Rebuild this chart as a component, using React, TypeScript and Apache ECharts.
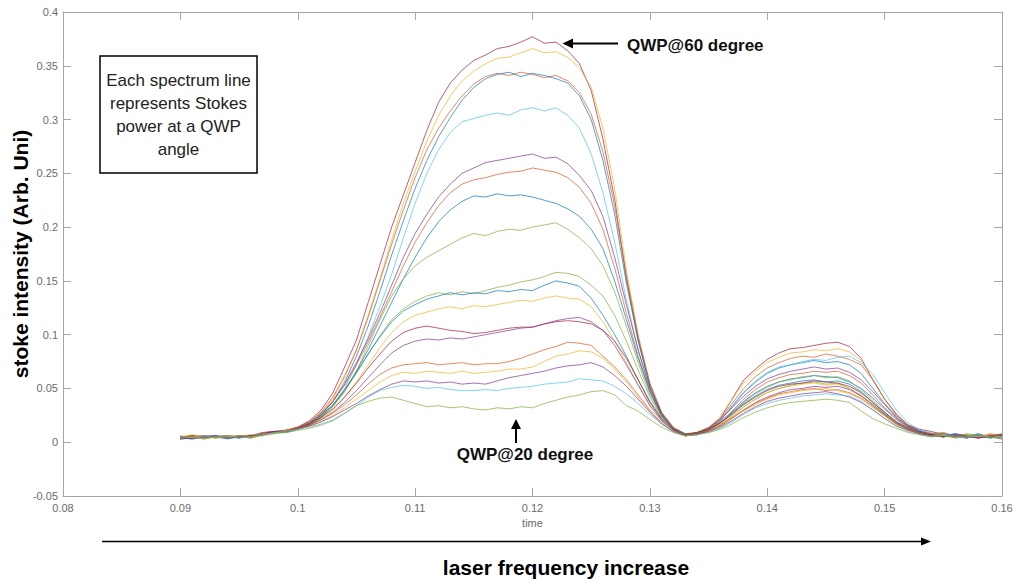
import React, { useEffect, useRef } from "react";
import * as echarts from "echarts";

// time axis sample positions (0.090 … 0.160)
const X = [
  0.09, 0.091, 0.092, 0.093, 0.094, 0.095, 0.096, 0.097, 0.098, 0.099, 0.1,
  0.101, 0.102, 0.103, 0.104, 0.105, 0.106, 0.107, 0.108, 0.109, 0.11,
  0.111, 0.112, 0.113, 0.114, 0.115, 0.116, 0.117, 0.118, 0.119, 0.12,
  0.121, 0.122, 0.123, 0.124, 0.125, 0.126, 0.127, 0.128, 0.129, 0.13,
  0.131, 0.132, 0.133, 0.134, 0.135, 0.136, 0.137, 0.138, 0.139, 0.14,
  0.141, 0.142, 0.143, 0.144, 0.145, 0.146, 0.147, 0.148, 0.149, 0.15,
  0.151, 0.152, 0.153, 0.154, 0.155, 0.156, 0.157, 0.158, 0.159, 0.16,
];

const S1 = [0.004,0.006,0.004,0.005,0.006,0.004,0.006,0.009,0.010,0.011,0.014,
  0.020,0.030,0.046,0.070,0.095,0.130,0.165,0.200,0.230,0.260,
  0.290,0.316,0.334,0.346,0.355,0.360,0.366,0.368,0.372,0.377,
  0.371,0.372,0.364,0.352,0.327,0.282,0.226,0.152,0.096,0.052,
  0.026,0.012,0.006,0.008,0.013,0.022,0.040,0.058,0.068,0.077,
  0.083,0.087,0.088,0.090,0.092,0.093,0.089,0.078,0.058,0.040,
  0.026,0.016,0.012,0.010,0.007,0.005,0.006,0.004,0.006,0.005];
const S2 = [0.005,0.007,0.005,0.004,0.006,0.005,0.007,0.008,0.009,0.012,0.013,
  0.018,0.027,0.040,0.060,0.085,0.118,0.152,0.188,0.222,0.252,
  0.280,0.304,0.322,0.336,0.345,0.352,0.357,0.358,0.362,0.366,
  0.362,0.363,0.358,0.348,0.330,0.292,0.236,0.160,0.100,0.055,
  0.027,0.013,0.007,0.008,0.013,0.024,0.040,0.055,0.066,0.074,
  0.079,0.083,0.084,0.086,0.085,0.087,0.084,0.076,0.058,0.040,
  0.025,0.016,0.010,0.008,0.006,0.007,0.004,0.006,0.005,0.003];
const S3 = [0.003,0.005,0.006,0.004,0.005,0.006,0.005,0.009,0.010,0.011,0.014,
  0.019,0.028,0.042,0.062,0.086,0.116,0.150,0.184,0.216,0.246,
  0.272,0.292,0.308,0.322,0.333,0.340,0.343,0.341,0.344,0.342,
  0.339,0.341,0.336,0.325,0.305,0.270,0.220,0.155,0.098,0.055,
  0.028,0.014,0.008,0.009,0.014,0.022,0.036,0.050,0.061,0.069,
  0.074,0.078,0.080,0.079,0.082,0.080,0.077,0.072,0.058,0.040,
  0.026,0.016,0.011,0.008,0.009,0.006,0.007,0.005,0.008,0.006];
const S4 = [0.004,0.003,0.005,0.006,0.004,0.005,0.006,0.007,0.010,0.010,0.012,
  0.017,0.025,0.038,0.056,0.080,0.108,0.140,0.174,0.206,0.236,
  0.262,0.284,0.302,0.318,0.330,0.338,0.342,0.344,0.340,0.343,
  0.341,0.338,0.334,0.322,0.300,0.262,0.212,0.148,0.094,0.052,
  0.026,0.013,0.008,0.007,0.012,0.020,0.033,0.046,0.056,0.064,
  0.069,0.072,0.074,0.076,0.074,0.075,0.072,0.064,0.050,0.036,
  0.024,0.015,0.010,0.007,0.008,0.005,0.006,0.008,0.004,0.006];
const S5 = [0.005,0.004,0.006,0.005,0.004,0.006,0.005,0.008,0.009,0.011,0.012,
  0.016,0.023,0.034,0.050,0.072,0.098,0.126,0.156,0.190,0.222,
  0.250,0.272,0.288,0.298,0.301,0.304,0.306,0.304,0.309,0.311,
  0.308,0.311,0.304,0.292,0.268,0.232,0.186,0.132,0.086,0.048,
  0.024,0.012,0.007,0.008,0.012,0.021,0.034,0.047,0.057,0.065,
  0.070,0.072,0.075,0.077,0.076,0.079,0.080,0.074,0.063,0.046,
  0.030,0.018,0.011,0.009,0.006,0.008,0.005,0.007,0.006,0.004];
const S6 = [0.003,0.004,0.005,0.006,0.005,0.004,0.006,0.007,0.009,0.010,0.013,
  0.018,0.026,0.038,0.054,0.074,0.096,0.120,0.146,0.172,0.194,
  0.212,0.228,0.240,0.250,0.255,0.260,0.262,0.264,0.266,0.268,
  0.264,0.265,0.259,0.248,0.234,0.210,0.172,0.128,0.086,0.050,
  0.027,0.013,0.007,0.009,0.013,0.021,0.032,0.043,0.052,0.059,
  0.063,0.066,0.068,0.070,0.068,0.069,0.065,0.058,0.047,0.035,
  0.023,0.015,0.010,0.007,0.008,0.006,0.004,0.007,0.005,0.006];
const S7 = [0.004,0.006,0.004,0.005,0.006,0.005,0.004,0.008,0.009,0.011,0.014,
  0.019,0.027,0.038,0.053,0.072,0.093,0.116,0.140,0.164,0.186,
  0.204,0.220,0.232,0.240,0.244,0.246,0.249,0.251,0.252,0.255,
  0.253,0.251,0.246,0.237,0.222,0.198,0.162,0.120,0.080,0.047,
  0.025,0.012,0.007,0.008,0.012,0.019,0.029,0.040,0.049,0.056,
  0.060,0.063,0.064,0.066,0.065,0.066,0.062,0.055,0.044,0.032,
  0.022,0.014,0.009,0.008,0.006,0.007,0.005,0.004,0.007,0.005];
const S8 = [0.005,0.004,0.006,0.005,0.003,0.005,0.006,0.007,0.010,0.009,0.012,
  0.017,0.024,0.034,0.048,0.066,0.086,0.108,0.130,0.152,0.172,
  0.190,0.205,0.216,0.224,0.229,0.228,0.231,0.229,0.230,0.228,
  0.225,0.222,0.217,0.210,0.198,0.180,0.150,0.114,0.078,0.047,
  0.025,0.012,0.006,0.007,0.011,0.018,0.028,0.038,0.046,0.052,
  0.056,0.059,0.060,0.062,0.061,0.060,0.056,0.050,0.041,0.031,
  0.021,0.014,0.010,0.007,0.005,0.008,0.006,0.005,0.004,0.007];
const S9 = [0.004,0.005,0.003,0.005,0.006,0.004,0.006,0.008,0.008,0.010,0.012,
  0.016,0.023,0.033,0.047,0.066,0.090,0.114,0.136,0.152,0.164,
  0.172,0.178,0.184,0.190,0.194,0.192,0.196,0.198,0.197,0.200,
  0.202,0.204,0.198,0.190,0.180,0.164,0.140,0.108,0.074,0.044,
  0.024,0.012,0.007,0.009,0.012,0.018,0.027,0.037,0.045,0.051,
  0.056,0.058,0.061,0.062,0.060,0.061,0.057,0.049,0.039,0.028,
  0.019,0.013,0.009,0.007,0.008,0.005,0.007,0.004,0.006,0.008];
const S10 = [0.003,0.005,0.006,0.004,0.005,0.006,0.004,0.007,0.009,0.011,0.013,
  0.017,0.024,0.034,0.048,0.064,0.082,0.099,0.114,0.124,0.131,
  0.136,0.139,0.137,0.140,0.138,0.141,0.144,0.146,0.149,0.151,
  0.154,0.158,0.157,0.154,0.146,0.136,0.118,0.094,0.067,0.042,
  0.023,0.012,0.007,0.008,0.011,0.016,0.024,0.033,0.040,0.046,
  0.050,0.053,0.055,0.056,0.054,0.055,0.050,0.043,0.034,0.025,
  0.017,0.012,0.008,0.006,0.007,0.005,0.008,0.006,0.004,0.005];
const S11 = [0.005,0.004,0.005,0.006,0.004,0.005,0.006,0.008,0.009,0.010,0.013,
  0.018,0.025,0.035,0.049,0.065,0.082,0.098,0.112,0.122,0.128,
  0.133,0.136,0.139,0.137,0.139,0.138,0.141,0.140,0.142,0.141,
  0.146,0.150,0.148,0.145,0.134,0.118,0.100,0.080,0.058,0.037,
  0.021,0.011,0.006,0.008,0.012,0.018,0.027,0.036,0.043,0.049,
  0.053,0.055,0.057,0.058,0.056,0.057,0.054,0.047,0.037,0.027,
  0.018,0.012,0.008,0.007,0.005,0.006,0.004,0.007,0.005,0.006];
const S12 = [0.006,0.004,0.005,0.004,0.006,0.005,0.007,0.007,0.009,0.011,0.012,
  0.016,0.022,0.030,0.042,0.056,0.072,0.088,0.102,0.112,0.118,
  0.121,0.124,0.126,0.124,0.127,0.126,0.128,0.130,0.132,0.131,
  0.134,0.136,0.134,0.133,0.126,0.112,0.094,0.074,0.054,0.035,
  0.020,0.011,0.006,0.007,0.011,0.017,0.025,0.033,0.040,0.046,
  0.050,0.052,0.054,0.055,0.053,0.054,0.050,0.044,0.035,0.026,
  0.018,0.012,0.008,0.006,0.007,0.004,0.006,0.005,0.007,0.004];
const S13 = [0.004,0.006,0.005,0.005,0.004,0.006,0.005,0.008,0.010,0.010,0.013,
  0.017,0.023,0.031,0.042,0.055,0.069,0.082,0.094,0.102,0.106,
  0.108,0.106,0.104,0.103,0.101,0.102,0.104,0.106,0.107,0.107,
  0.110,0.112,0.113,0.112,0.110,0.104,0.094,0.078,0.058,0.038,
  0.022,0.012,0.007,0.009,0.012,0.018,0.026,0.035,0.042,0.048,
  0.052,0.054,0.055,0.057,0.056,0.055,0.052,0.046,0.037,0.028,
  0.019,0.013,0.009,0.007,0.005,0.007,0.006,0.004,0.006,0.007];
const S14 = [0.003,0.004,0.006,0.005,0.005,0.004,0.006,0.007,0.009,0.011,0.012,
  0.016,0.021,0.028,0.037,0.048,0.060,0.072,0.083,0.090,0.094,
  0.096,0.095,0.097,0.096,0.098,0.100,0.102,0.104,0.106,0.107,
  0.110,0.113,0.115,0.116,0.112,0.104,0.090,0.072,0.053,0.034,
  0.020,0.011,0.006,0.007,0.010,0.015,0.022,0.030,0.037,0.042,
  0.046,0.049,0.050,0.052,0.051,0.052,0.049,0.043,0.035,0.026,
  0.018,0.012,0.008,0.006,0.007,0.005,0.004,0.006,0.005,0.003];
const S15 = [0.005,0.006,0.004,0.005,0.006,0.005,0.004,0.007,0.009,0.010,0.013,
  0.016,0.021,0.027,0.035,0.044,0.054,0.063,0.069,0.072,0.073,
  0.074,0.072,0.073,0.074,0.072,0.073,0.073,0.075,0.078,0.082,
  0.086,0.089,0.093,0.092,0.090,0.080,0.070,0.058,0.044,0.030,
  0.018,0.010,0.006,0.008,0.011,0.016,0.023,0.030,0.036,0.041,
  0.045,0.047,0.049,0.050,0.048,0.049,0.046,0.041,0.033,0.025,
  0.017,0.012,0.008,0.006,0.005,0.007,0.005,0.006,0.004,0.006];
const S16 = [0.004,0.005,0.006,0.004,0.005,0.006,0.005,0.008,0.008,0.011,0.012,
  0.015,0.019,0.025,0.032,0.040,0.048,0.056,0.062,0.065,0.064,
  0.066,0.065,0.064,0.066,0.064,0.065,0.066,0.068,0.068,0.070,
  0.075,0.080,0.082,0.085,0.084,0.078,0.068,0.056,0.042,0.029,
  0.018,0.010,0.006,0.007,0.010,0.015,0.022,0.029,0.035,0.040,
  0.044,0.046,0.048,0.049,0.050,0.048,0.045,0.040,0.032,0.024,
  0.016,0.011,0.008,0.006,0.007,0.004,0.006,0.005,0.007,0.005];
const S17 = [0.005,0.003,0.005,0.006,0.004,0.005,0.006,0.007,0.010,0.010,0.013,
  0.015,0.019,0.024,0.030,0.036,0.043,0.049,0.054,0.057,0.056,
  0.057,0.055,0.056,0.054,0.055,0.054,0.057,0.060,0.062,0.064,
  0.066,0.069,0.071,0.072,0.074,0.070,0.062,0.052,0.040,0.028,
  0.017,0.010,0.006,0.008,0.010,0.014,0.020,0.027,0.033,0.038,
  0.041,0.043,0.045,0.046,0.047,0.045,0.042,0.037,0.030,0.022,
  0.015,0.011,0.008,0.006,0.005,0.007,0.005,0.004,0.006,0.007];
const S18 = [0.006,0.004,0.005,0.005,0.006,0.004,0.005,0.007,0.009,0.010,0.012,
  0.014,0.017,0.021,0.027,0.034,0.042,0.048,0.051,0.053,0.052,
  0.050,0.051,0.049,0.048,0.048,0.049,0.048,0.050,0.051,0.052,
  0.054,0.055,0.056,0.059,0.058,0.057,0.052,0.045,0.036,0.026,
  0.017,0.010,0.006,0.007,0.009,0.013,0.019,0.026,0.032,0.036,
  0.039,0.041,0.043,0.044,0.045,0.044,0.043,0.038,0.030,0.022,
  0.015,0.010,0.007,0.005,0.007,0.006,0.004,0.006,0.005,0.004];
const S19 = [0.004,0.005,0.003,0.005,0.004,0.006,0.005,0.006,0.008,0.009,0.011,
  0.013,0.016,0.020,0.027,0.034,0.038,0.041,0.042,0.039,0.036,
  0.033,0.034,0.032,0.033,0.031,0.030,0.032,0.031,0.033,0.032,
  0.036,0.039,0.042,0.044,0.047,0.048,0.044,0.034,0.029,0.021,
  0.014,0.009,0.006,0.007,0.009,0.012,0.017,0.023,0.028,0.032,
  0.035,0.037,0.038,0.039,0.040,0.039,0.037,0.029,0.022,0.017,
  0.013,0.009,0.007,0.005,0.006,0.004,0.005,0.007,0.004,0.005];

const BLUE = "#0072BD";
const RED = "#D95319";
const YELLOW = "#EDB120";
const PURPLE = "#7E2F8E";
const GREEN = "#77AC30";
const LIGHTBLUE = "#4DBEEE";
const DARKRED = "#A2142F";

const LINES = [
  { name: "QWP@60 degree", data: S1, color: DARKRED },
  { name: "line 2", data: S2, color: YELLOW },
  { name: "line 3", data: S3, color: RED },
  { name: "line 4", data: S4, color: BLUE },
  { name: "line 5", data: S5, color: LIGHTBLUE },
  { name: "line 6", data: S6, color: PURPLE },
  { name: "line 7", data: S7, color: RED },
  { name: "line 8", data: S8, color: BLUE },
  { name: "line 9", data: S9, color: GREEN },
  { name: "line 10", data: S10, color: GREEN },
  { name: "line 11", data: S11, color: BLUE },
  { name: "line 12", data: S12, color: YELLOW },
  { name: "line 13", data: S13, color: DARKRED },
  { name: "line 14", data: S14, color: PURPLE },
  { name: "line 15", data: S15, color: RED },
  { name: "line 16", data: S16, color: YELLOW },
  { name: "line 17", data: S17, color: PURPLE },
  { name: "line 18", data: S18, color: LIGHTBLUE },
  { name: "QWP@20 degree", data: S19, color: GREEN },
];

const FONT = "'Liberation Sans', Arial, Helvetica, sans-serif";
const AXIS_GRAY = "#a6a6a6";
const LABEL_GRAY = "#6b6b6b";
const fmt = (v: number) => String(parseFloat(v.toFixed(4)));

export default function App() {
  const ref = useRef<HTMLDivElement>(null);
  useEffect(() => {
    if (!ref.current) return;
    const chart = echarts.init(ref.current, undefined, { renderer: "svg" });
    const axisCommonX = {
      type: "value",
      min: 0.08,
      max: 0.16,
      interval: 0.01,
      axisLine: { show: true, onZero: false, lineStyle: { color: AXIS_GRAY, width: 1 } },
      axisTick: { show: true, inside: true, length: 8, lineStyle: { color: AXIS_GRAY } },
      splitLine: { show: false },
    };
    const axisCommonY = {
      type: "value",
      min: -0.05,
      max: 0.4,
      interval: 0.05,
      axisLine: { show: true, onZero: false, lineStyle: { color: AXIS_GRAY, width: 1 } },
      axisTick: { show: true, inside: true, length: 8, lineStyle: { color: AXIS_GRAY } },
      splitLine: { show: false },
    };
    chart.setOption({
      animation: false,
      backgroundColor: "#ffffff",
      grid: { left: 63, right: 14, top: 12, bottom: 86, containLabel: false },
      xAxis: [
        {
          ...axisCommonX,
          position: "bottom",
          name: "time",
          nameLocation: "middle",
          nameGap: 20,
          nameTextStyle: { color: LABEL_GRAY, fontSize: 11, fontFamily: FONT },
          axisLabel: { color: LABEL_GRAY, fontSize: 11, fontFamily: FONT, margin: 6, formatter: fmt },
        },
        { ...axisCommonX, position: "top", axisLabel: { show: false } },
      ],
      yAxis: [
        {
          ...axisCommonY,
          position: "left",
          axisLabel: { color: LABEL_GRAY, fontSize: 11, fontFamily: FONT, margin: 5, formatter: fmt },
        },
        { ...axisCommonY, position: "right", axisLabel: { show: false } },
      ],
      series: LINES.map((l) => ({
        type: "line",
        name: l.name,
        xAxisIndex: 0,
        yAxisIndex: 0,
        data: X.map((x, i) => [x, l.data[i]]),
        showSymbol: false,
        symbol: "none",
        silent: true,
        lineStyle: { color: l.color, width: 1, opacity: 0.68 },
      })),
      graphic: [
        {
          type: "rect",
          z: 100,
          shape: { x: 100, y: 56, width: 157, height: 117 },
          style: { fill: "#ffffff", stroke: "#000000", lineWidth: 1.5 },
        },
        {
          type: "text",
          z: 101,
          x: 178.5,
          y: 115,
          style: {
            text: "Each spectrum line\nrepresents Stokes\npower at a QWP\nangle",
            textAlign: "center",
            verticalAlign: "middle",
            lineHeight: 23.3,
            fontSize: 17,
            fontFamily: FONT,
            fill: "#222222",
          },
        },
        {
          type: "text",
          z: 101,
          x: 627,
          y: 45,
          style: {
            text: "QWP@60 degree",
            textAlign: "left",
            verticalAlign: "middle",
            fontSize: 17,
            fontWeight: "bold",
            fontFamily: FONT,
            fill: "#111111",
          },
        },
        {
          type: "line",
          z: 101,
          shape: { x1: 618, y1: 43.5, x2: 571, y2: 43.5 },
          style: { stroke: "#000000", lineWidth: 2 },
        },
        {
          type: "polygon",
          z: 101,
          shape: { points: [[562.5, 43.5], [573, 38.5], [573, 48.5]] },
          style: { fill: "#000000" },
        },
        {
          type: "text",
          z: 101,
          x: 525,
          y: 454,
          style: {
            text: "QWP@20 degree",
            textAlign: "center",
            verticalAlign: "middle",
            fontSize: 17,
            fontWeight: "bold",
            fontFamily: FONT,
            fill: "#111111",
          },
        },
        {
          type: "line",
          z: 101,
          shape: { x1: 516, y1: 443, x2: 516, y2: 427 },
          style: { stroke: "#000000", lineWidth: 2 },
        },
        {
          type: "polygon",
          z: 101,
          shape: { points: [[516, 419], [511, 429], [521, 429]] },
          style: { fill: "#000000" },
        },
        {
          type: "line",
          z: 101,
          shape: { x1: 102, y1: 541.5, x2: 924, y2: 541.5 },
          style: { stroke: "#000000", lineWidth: 1.5 },
        },
        {
          type: "polygon",
          z: 101,
          shape: { points: [[931, 541.5], [921, 537.5], [921, 545.5]] },
          style: { fill: "#000000" },
        },
        {
          type: "text",
          z: 101,
          x: 566,
          y: 567,
          style: {
            text: "laser frequency increase",
            textAlign: "center",
            verticalAlign: "middle",
            fontSize: 21,
            fontWeight: "bold",
            fontFamily: FONT,
            fill: "#000000",
          },
        },
        {
          type: "text",
          z: 101,
          x: 20,
          y: 254,
          rotation: Math.PI / 2,
          style: {
            text: "stoke intensity (Arb. Uni)",
            textAlign: "center",
            verticalAlign: "middle",
            fontSize: 21,
            fontWeight: "bold",
            fontFamily: FONT,
            fill: "#000000",
          },
        },
      ],
    });
    return () => chart.dispose();
  }, []);
  return (
    <div
      ref={ref}
      style={{ position: "absolute", left: 0, top: 0, width: 1016, height: 582 }}
    />
  );
}
